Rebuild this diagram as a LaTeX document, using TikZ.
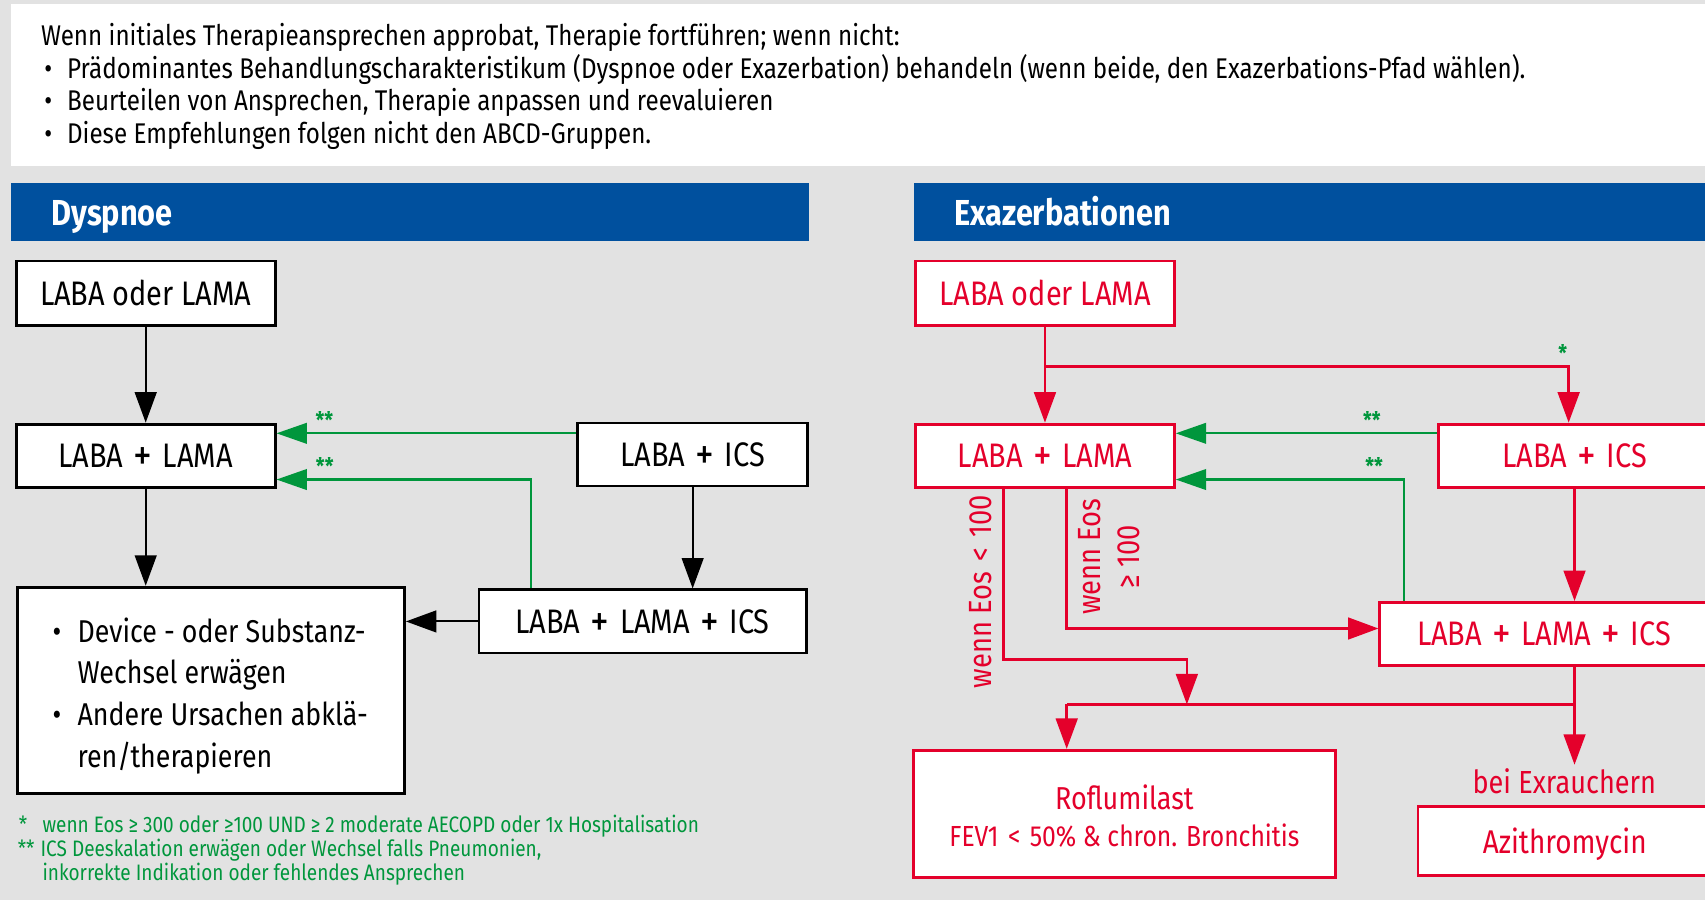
\documentclass[tikz,border=0pt]{standalone}
\usepackage{fontspec}
\setmainfont[FakeStretch=0.85]{Fira Sans}
\usetikzlibrary{arrows.meta}
\definecolor{copdblue}{RGB}{0,80,158}
\definecolor{copdred}{RGB}{228,0,43}
\definecolor{copdgreen}{RGB}{0,150,60}
\definecolor{copdgray}{RGB}{226,226,226}
\newcommand{\pl}{\ \hspace{0.08em}\raisebox{-0.09em}{\scalebox{1.3}{+}}\hspace{0.08em}\ }

\begin{document}
\begin{tikzpicture}[x=0.02cm,y=-0.02cm,
	box/.style={draw,line width=1.5pt,fill=white,inner sep=0pt,text depth=0pt,font=\fontsize{17.8}{20}\selectfont},
	blackbox/.style={box,draw=black,text=black},
	redbox/.style={box,draw=copdred,text=copdred},
	blackarrow/.style={line width=1.1pt,-{Triangle[length=0.56cm,width=0.4cm]}},
	redline/.style={copdred,line width=1.3pt},
	redarrow/.style={redline,-{Triangle[length=0.56cm,width=0.4cm]}},
	greenarrow/.style={copdgreen,line width=1.1pt,-{Triangle[length=0.56cm,width=0.38cm]}},
	stars/.style={copdgreen,font=\fontsize{12}{12}\selectfont\bfseries,inner sep=0pt,anchor=base,yshift=2.4pt},
	intro/.style={anchor=base west,inner sep=0pt,font=\fontsize{14.9}{17}\selectfont},
	bigline/.style={anchor=base west,inner sep=0pt,font=\fontsize{16.5}{20}\selectfont},
	redtext/.style={text=copdred,inner sep=0pt,anchor=base,font=\fontsize{17.8}{20}\selectfont},
	eos/.style={redtext,anchor=center,rotate=90,align=center,font=\fontsize{16.8}{20}\selectfont},
	foot/.style={copdgreen,anchor=base west,inner sep=0pt,font=\fontsize{11.7}{12.5}\selectfont},
	bartitle/.style={white,anchor=base west,inner sep=0pt,font=\fontsize{18.9}{20}\selectfont\bfseries}
]
	\useasboundingbox (0,0) rectangle (1568,828);
	\clip (0,0) rectangle (1568,828);
	\fill[copdgray] (0,0) rectangle (1568,828);
	\fill[white] (10.5,4) rectangle (1568,153);
	\node[intro] (hdr0) at (37.4,42) {Wenn initiales Therapieansprechen approbat, Therapie fortführen; wenn nicht:};
	\foreach \txt [count=\i] in {{Prädominantes Behandlungscharakteristikum (Dyspnoe oder Exazerbation) behandeln (wenn beide, den Exazerbations-Pfad wählen).},{Beurteilen von Ansprechen, Therapie anpassen und reevaluieren},{Diese Empfehlungen folgen nicht den ABCD-Gruppen.}}
		\node[intro] (hdr\i) at (40.4,{42+30*\i}) {\makebox[0.42cm][l]{•}\txt};

	\fill[copdblue] (10,168) rectangle (744,221.5);
	\fill[copdblue] (840.5,168) rectangle (1568,221.5);
	\node[bartitle] (ttlL) at (47,207) {Dyspnoe};
	\node[bartitle] (ttlR) at (877,207) {Exazerbationen};

	% Dyspnoe
	\node[blackbox,minimum width=4.76cm,minimum height=1.18cm] (lol) at (134,269.5) {LABA oder LAMA};
	\node[blackbox,minimum width=4.76cm,minimum height=1.16cm] (lla) at (134,419) {LABA\pl LAMA};
	\node[blackbox,minimum width=4.24cm,minimum height=1.16cm] (lics) at (637,418) {LABA\pl ICS};
	\node[blackbox,minimum width=6.02cm,minimum height=1.16cm] (ltri) at (591,571.5) {LABA\pl LAMA\pl ICS};
	\node[blackbox,minimum width=7.12cm,minimum height=3.8cm] (lbig) at (194,635) {};
	\node[bigline] (lbig1) at (48,591) {\makebox[0.46cm][l]{•}Device - oder Substanz-};
	\node[bigline] (lbig2) at (71,629) {Wechsel erwägen};
	\node[bigline] (lbig3) at (48,667) {\makebox[0.46cm][l]{•}Andere Ursachen abklä-};
	\node[bigline] (lbig4) at (71,706) {ren/therapieren};
	\coordinate (ga) at (0,398.5);
	\coordinate (gb) at (0,441);
	\coordinate (gv) at (488,0);
	\draw[blackarrow] (lol) -- (lla);
	\draw[blackarrow] (lla) -- (lla |- lbig.north);
	\draw[blackarrow] (lics) -- (lics |- ltri.north);
	\draw[blackarrow] (ltri) -- (ltri -| lbig.east);
	\draw[greenarrow] (lics.west |- ga) -- (lla.east |- ga) node[stars,pos=0.84] {**};
	\draw[greenarrow] (gv |- ltri.north) -- (gv |- gb) -- (lla.east |- gb) node[stars,pos=0.81] {**};

	\node[foot] (fn1a) at (17,765.8) {*};
	\node[foot] (fn1) at (38.8,765.8) {wenn Eos ≥ 300 oder ≥100 UND ≥ 2 moderate AECOPD oder 1x Hospitalisation};
	\node[foot] (fn2a) at (16,787.8) {**};
	\node[foot] (fn2) at (37,787.8) {ICS Deeskalation erwägen oder Wechsel falls Pneumonien,};
	\node[foot] (fn3) at (38.8,810) {inkorrekte Indikation oder fehlendes Ansprechen};

	% Exazerbationen
	\node[redbox,minimum width=4.76cm,minimum height=1.18cm] (rol) at (961,269.5) {LABA oder LAMA};
	\node[redbox,minimum width=4.76cm,minimum height=1.16cm] (rla) at (961,419) {LABA\pl LAMA};
	\node[redbox,minimum width=5cm,minimum height=1.16cm] (rics) at (1448,419) {LABA\pl ICS};
	\node[redbox,minimum width=6.04cm,minimum height=1.16cm] (rtri) at (1420,583) {LABA\pl LAMA\pl ICS};
	\node[redbox,minimum width=7.76cm,minimum height=2.34cm] (rrof) at (1034,748.5) {};
	\node[redtext,font=\fontsize{16.6}{20}\selectfont] (rrof1) at (1034,744.7) {Roflumilast};
	\node[redtext,font=\fontsize{15.2}{16}\selectfont] (rrof2) at (1034,778.5) {FEV1 \hspace{0.1em}<\hspace{0.1em} 50\% \& chron. Bronchitis};
	\node[redbox,font=\fontsize{17.2}{20}\selectfont,minimum width=5.4cm,minimum height=1.26cm] (razi) at (1439,773.5) {Azithromycin};
	\node[redtext,font=\fontsize{16.7}{20}\selectfont,inner sep=2pt] (rexr) at (1438.6,730) {bei Exrauchern};
	\node[eos] (eoshi) at (1020,512) {wenn Eos\\≥ 100};
	\node[eos] (eoslo) at (902,544) {wenn Eos \hspace{0.1em}<\hspace{0.1em} 100};
	\coordinate (rsplit) at (1442.6,337);
	\coordinate (rv) at (1291,0);
	\coordinate (reos) at (981,578);
	\coordinate (rlow) at (923,606.5);
	\coordinate (rlowend) at (1091.5,647.8);
	\coordinate (rbar) at (981,647.8);
	\draw[redarrow] (rol) -- (rla);
	\draw[redarrow] (rol.south |- rsplit) -- (rsplit) node[stars,xshift=-0.11cm] {*} -- (rsplit |- rics.north);
	\draw[greenarrow] (rics.west |- ga) -- (rla.east |- ga) node[stars,pos=0.25] {**};
	\draw[greenarrow] (rv |- rtri.north) -- (rv |- gb) -- (rla.east |- gb) node[stars,pos=0.13] {**};
	\draw[redarrow] (rics) -- (rics |- rtri.north);
	\draw[redarrow] (rla.south -| reos) -- (reos) -- (reos -| rtri.west);
	\draw[redarrow] (rla.south -| rlow) -- (rlow) -- (rlow -| rlowend) -- (rlowend);
	\draw[redline] (rtri.south -| rics) -- (rics |- rbar) -- (rbar);
	\draw[redarrow] (rbar) -- (rbar |- rrof.north);
	\draw[redarrow] (rics |- rbar) -- (rics |- rexr.north);
\end{tikzpicture}
\end{document}
